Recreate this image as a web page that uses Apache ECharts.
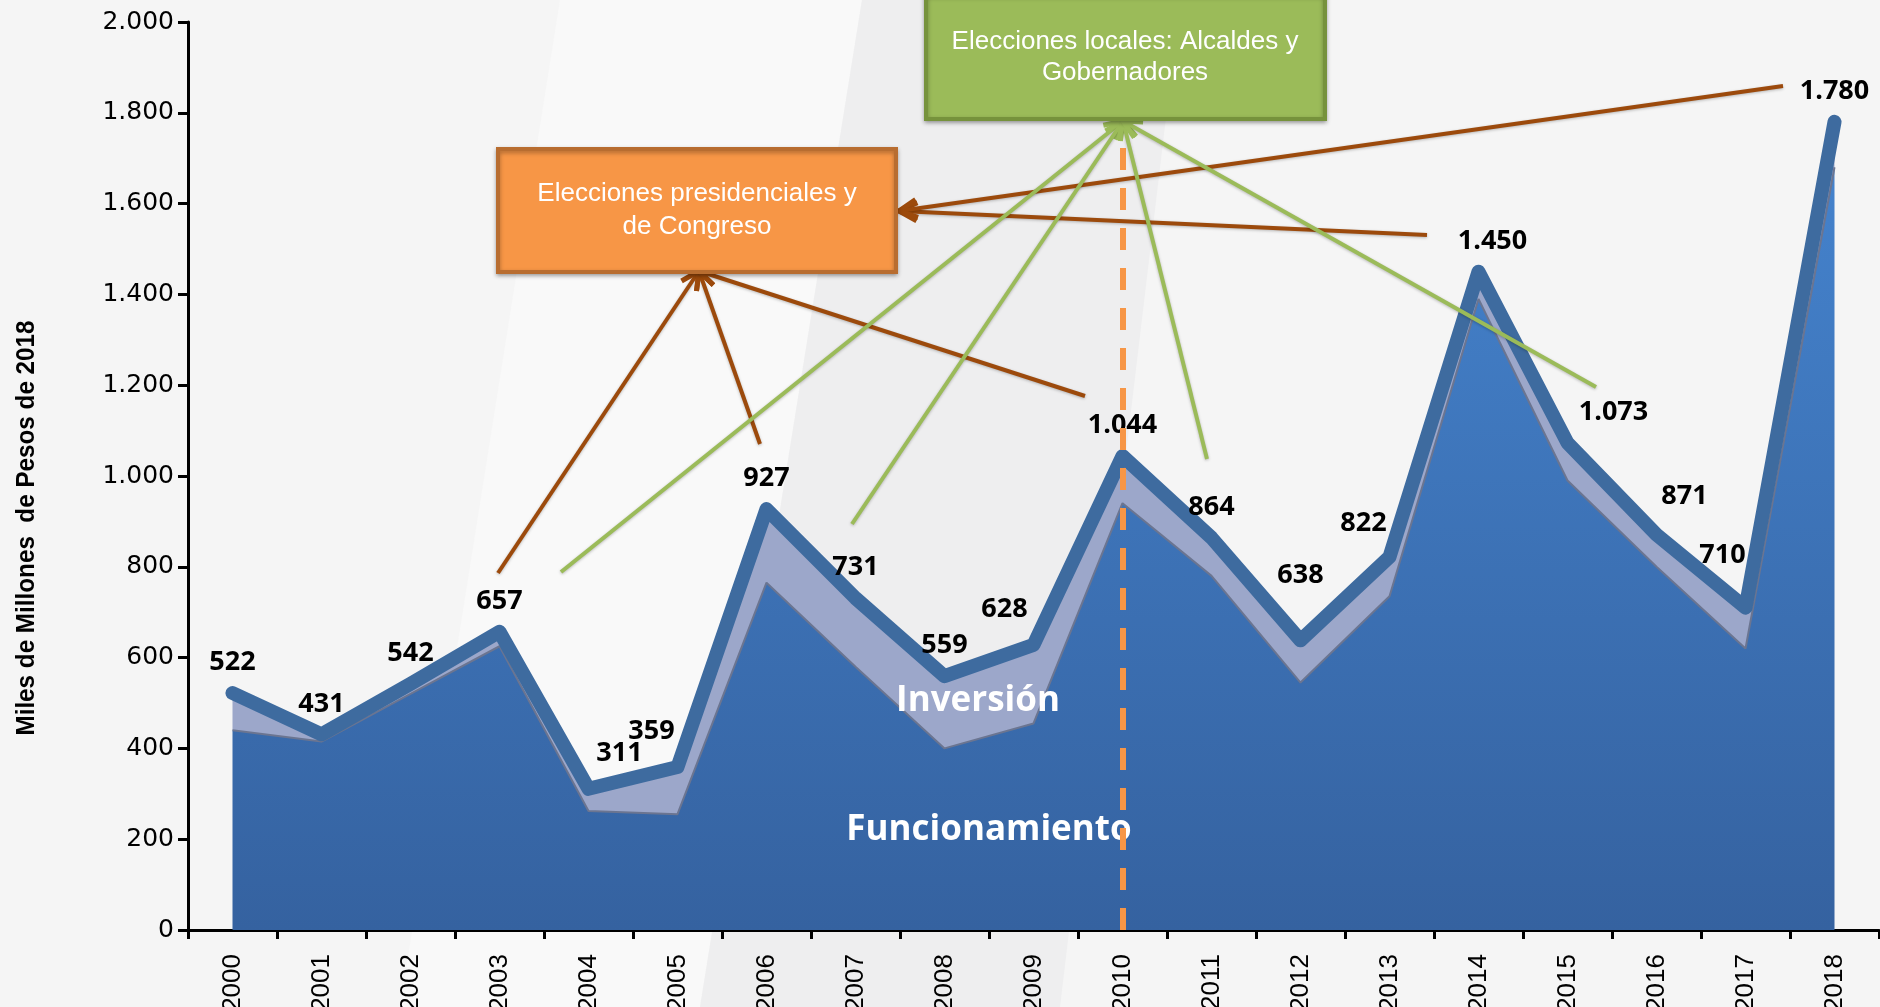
<!DOCTYPE html>
<html>
<head>
<meta charset="utf-8">
<script src="https://cdn.jsdelivr.net/npm/echarts@6/dist/echarts.min.js"></script>
<style>
  html, body { margin: 0; padding: 0; background: #f5f5f5; }
  #chart { width: 1880px; height: 1007px; }
</style>
</head>
<body>
<div id="chart"></div>
<script>
// datos (miles de millones de pesos de 2018)
const years = ['2000', '2001', '2002', '2003', '2004', '2005', '2006', '2007', '2008', '2009',
               '2010', '2011', '2012', '2013', '2014', '2015', '2016', '2017', '2018'];
const funcionamiento = [440, 415, 520, 625, 262, 255, 765, 580, 400, 455, 940, 780, 545, 735, 1390, 990, 800, 620, 1680];
const inversion = [82, 16, 22, 32, 49, 104, 162, 151, 159, 173, 104, 84, 93, 87, 60, 83, 71, 90, 100];
const totalGasto = [522, 431, 542, 657, 311, 359, 927, 731, 559, 628, 1044, 864, 638, 822, 1450, 1073, 871, 710, 1780];
const yMin = 0, yMax = 2000, yStep = 200;

// ajustes de posicion de las etiquetas (px)
const labelNudge = {
    '2004': [31, -5], '2005': [-26, -5], '2009': [-29, -5], '2012': [0, -35],
    '2013': [-26, -3], '2014': [14, 0], '2015': [46, 0], '2016': [28, -8], '2017': [-23, -22]
};

function fmtMiles(v) {
    if (v >= 1000) return Math.floor(v / 1000) + '.' + String(v % 1000).padStart(3, '0');
    return String(v);
}

// flechas de las anotaciones
function arrow(t, h, color) {
    const dx = h[0] - t[0], dy = h[1] - t[1];
    const len = Math.hypot(dx, dy);
    const ux = dx / len, uy = dy / len;
    const L = 18, W = 9;
    const w1 = [h[0] - L * ux - W * uy, h[1] - L * uy + W * ux];
    const w2 = [h[0] - L * ux + W * uy, h[1] - L * uy - W * ux];
    return [
        { type: 'line', z: 6, shape: { x1: t[0], y1: t[1], x2: h[0], y2: h[1] },
          style: { stroke: color, lineWidth: 4, shadowBlur: 3, shadowColor: 'rgba(0,0,0,0.25)', shadowOffsetY: 1 } },
        { type: 'polyline', z: 6, shape: { points: [w1, h, w2] },
          style: { stroke: color, lineWidth: 5, fill: null } }
    ];
}

const brown = '#9c4a0c';
const green = '#9bbb59';
const presHead = [699, 271];
const presSide = [899, 211];
const localHead = [1123, 121];

const arrows = [].concat(
    arrow([498, 573], presHead, brown),
    arrow([760, 444], presHead, brown),
    arrow([1085, 396], presHead, brown),
    arrow([1427, 235], presSide, brown),
    arrow([1783, 86], presSide, brown),
    arrow([561, 572], localHead, green),
    arrow([852, 524], localHead, green),
    arrow([1207, 459], localHead, green),
    arrow([1596, 387], localHead, green)
);

const chart = echarts.init(document.getElementById('chart'));

const option = {
    backgroundColor: '#f5f5f5',
    animation: false,
    grid: { left: 188, right: 1, top: 22, bottom: 77, outerBoundsMode: 'none', containLabel: false },
    xAxis: {
        type: 'category',
        data: years,
        boundaryGap: true,
        axisLine: { lineStyle: { color: '#000', width: 3 } },
        axisTick: { show: true, interval: 0, length: 9, lineStyle: { color: '#000', width: 3 } },
        axisLabel: {
            interval: 0, rotate: 90, margin: 24,
            fontFamily: 'Liberation Sans', fontSize: 26, color: '#000'
        },
        splitLine: { show: false }
    },
    yAxis: {
        type: 'value',
        min: yMin, max: yMax, interval: yStep,
        axisLine: { show: true, lineStyle: { color: '#000', width: 3 } },
        axisTick: { show: true, length: 10, lineStyle: { color: '#000', width: 3 } },
        axisLabel: {
            margin: 14, fontFamily: 'DejaVu Sans', fontSize: 25, color: '#000',
            formatter: v => fmtMiles(v)
        },
        splitLine: { show: false }
    },
    series: [
        {
            name: 'Funcionamiento',
            type: 'line',
            stack: 'gasto',
            data: funcionamiento,
            symbol: 'none',
            lineStyle: { color: '#6b7591', width: 2 },
            areaStyle: {
                opacity: 1,
                color: new echarts.graphic.LinearGradient(0, 0, 0, 1, [
                    { offset: 0, color: '#4482cc' },
                    { offset: 1, color: '#3562a0' }
                ])
            },
            z: 2
        },
        {
            name: 'Inversión',
            type: 'line',
            stack: 'gasto',
            data: inversion,
            symbol: 'none',
            lineStyle: { width: 0 },
            areaStyle: { opacity: 1, color: '#9ca7ca' },
            z: 2
        },
        {
            name: 'Total',
            type: 'line',
            data: totalGasto,
            symbol: 'circle',
            symbolSize: 0,
            showSymbol: true,
            showAllSymbol: true,
            itemStyle: { color: 'rgba(0,0,0,0)', borderWidth: 0 },
            lineStyle: { color: '#3e6b9f', width: 14, cap: 'round', join: 'round' },
            label: {
                show: true, position: 'top', distance: 17,
                fontFamily: 'Open Sans', fontWeight: 'bold', fontSize: 27, color: '#000',
                formatter: p => fmtMiles(p.value)
            },
            labelLayout: params => {
                const n = labelNudge[years[params.dataIndex]];
                return n ? { dx: n[0], dy: n[1], hideOverlap: false } : { hideOverlap: false };
            },
            markLine: {
                silent: true,
                symbol: 'none',
                z: 5,
                label: { show: false },
                lineStyle: { color: '#f79646', width: 6, type: [22, 18], opacity: 1 },
                data: [[{ coord: ['2010', 0] }, { coord: ['2010', 1790] }]]
            },
            z: 3
        }
    ],
    graphic: [
        // franjas de fondo
        { type: 'polygon', z: -1, silent: true, shape: { points: [[560, 0], [862, 0], [700, 1007], [400, 1007]] },
          style: { fill: '#f9f9f9' } },
        { type: 'polygon', z: -1, silent: true, shape: { points: [[862, 0], [1180, 0], [1060, 1007], [700, 1007]] },
          style: { fill: '#eeeeef' } },
        // titulo eje y
        { type: 'text', z: 4, x: 27, y: 528, rotation: Math.PI / 2, scaleX: 0.97,
          style: { text: 'Miles de Millones  de Pesos de 2018', fill: '#000',
                   font: 'bold 25px "Liberation Sans"', align: 'center', verticalAlign: 'middle' } },
        // textos de las areas
        { type: 'text', z: 4, x: 978, y: 701,
          style: { text: 'Inversión', fill: '#fff', font: 'bold 35px "Open Sans"',
                   align: 'center', verticalAlign: 'middle' } },
        { type: 'text', z: 4, x: 989, y: 830,
          style: { text: 'Funcionamiento', fill: '#fff', font: 'bold 35px "Open Sans"',
                   align: 'center', verticalAlign: 'middle' } },
        ...arrows,
        // recuadros
        { type: 'rect', z: 7, shape: { x: 926, y: -6, width: 399, height: 125 },
          style: { fill: '#9bbb59', stroke: '#76923c', lineWidth: 4,
                   shadowBlur: 4, shadowColor: 'rgba(0,0,0,0.3)', shadowOffsetY: 2 } },
        { type: 'text', z: 8, x: 1125, y: 57,
          style: { text: 'Elecciones locales: Alcaldes y\nGobernadores', fill: '#fff',
                   font: '26px "Liberation Sans"', lineHeight: 31, align: 'center', verticalAlign: 'middle' } },
        { type: 'rect', z: 7, shape: { x: 498, y: 149, width: 398, height: 123 },
          style: { fill: '#f79646', stroke: '#b86d30', lineWidth: 4,
                   shadowBlur: 4, shadowColor: 'rgba(0,0,0,0.3)', shadowOffsetY: 2 } },
        { type: 'text', z: 8, x: 697, y: 210,
          style: { text: 'Elecciones presidenciales y\nde Congreso', fill: '#fff',
                   font: '26px "Liberation Sans"', lineHeight: 33, align: 'center', verticalAlign: 'middle' } }
    ]
};

chart.setOption(option);
</script>
</body>
</html>
